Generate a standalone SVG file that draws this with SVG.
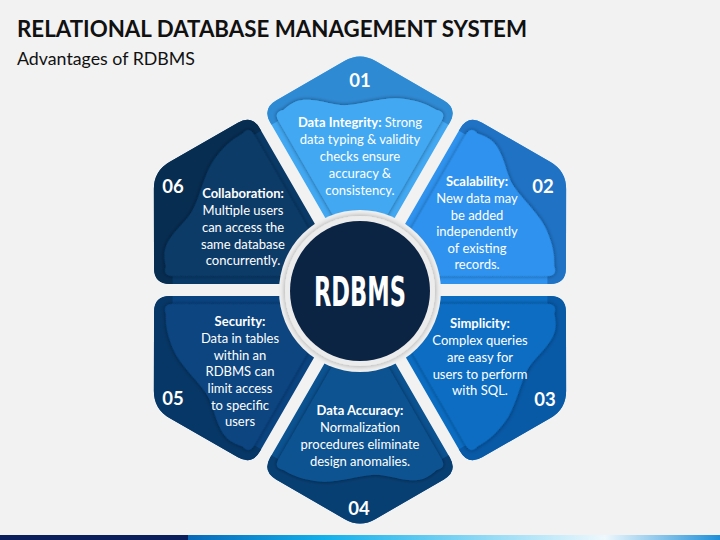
<svg xmlns="http://www.w3.org/2000/svg" xmlns:xlink="http://www.w3.org/1999/xlink" width="720" height="540" viewBox="0 0 720 540">
<style>
.title{font-family:Lato,"Liberation Sans",sans-serif;font-weight:bold;font-size:22.5px;fill:#111;}
.sub{font-family:Lato,"Liberation Sans",sans-serif;font-size:17px;fill:#111;}
.body{font-family:Lato,"Liberation Sans",sans-serif;font-size:13px;fill:#fff;text-anchor:middle;}
.b{font-weight:bold;}
.num{font-family:Lato,"Liberation Sans",sans-serif;font-weight:bold;font-size:18.5px;fill:#fff;text-anchor:middle;}
.core{font-family:"DejaVu Sans Condensed","Liberation Sans",sans-serif;font-weight:bold;font-size:41px;fill:#fff;text-anchor:middle;}
</style>
<defs>
<path id="kite" d="M -15.6,-229 Q 0,-238 15.6,-229 L 83.9,-189.4 Q 97.8,-181.4 89.8,-167.5 L 0,-12 L -89.8,-167.5 Q -97.8,-181.4 -83.9,-189.4 Z"/>
<path id="cap" d="M -150,-260 L 150,-260 L 150,-130 L 81.6,-169.3 Q 86.6,-178 76.6,-180 C 70,-184 60,-189 45,-191 C 25,-194 5,-186 -12,-185 C -25,-184 -35,-189 -48,-190 C -58,-191 -66,-190 -76.6,-180 Q -86.6,-178 -81.6,-169.3 L -150,-130 Z"/>
<path id="panel" d="M -76.6,-180 C -66,-190 -58,-191 -48,-190 C -35,-189 -25,-184 -12,-185 C 5,-186 25,-194 45,-191 C 60,-189 70,-184 76.6,-180 Q 86.6,-178 81.6,-169.3 L 0,-28 L -81.6,-169.3 Q -86.6,-178 -76.6,-180 Z"/>
<clipPath id="kclip"><use xlink:href="#kite"/></clipPath>
<filter id="sh" x="-20%" y="-20%" width="140%" height="140%">
<feGaussianBlur in="SourceAlpha" stdDeviation="2"/>
<feComponentTransfer><feFuncA type="linear" slope="0.5"/></feComponentTransfer>
<feMerge><feMergeNode/><feMergeNode in="SourceGraphic"/></feMerge>
</filter>
<filter id="csh" x="-20%" y="-20%" width="140%" height="140%">
<feGaussianBlur in="SourceAlpha" stdDeviation="3"/>
<feComponentTransfer><feFuncA type="linear" slope="0.35"/></feComponentTransfer>
<feMerge><feMergeNode/><feMergeNode in="SourceGraphic"/></feMerge>
</filter>
<linearGradient id="bar" x1="0" y1="0" x2="720" y2="0" gradientUnits="userSpaceOnUse">
<stop offset="0.26" stop-color="#0868b8"/>
<stop offset="0.45" stop-color="#12b0ea"/>
<stop offset="0.84" stop-color="#eef8fd"/>
<stop offset="1" stop-color="#1d8fd8"/>
</linearGradient>
</defs>
<rect x="0" y="0" width="720" height="540" fill="#f2f2f2"/>
<text class="title" x="17" y="37" textLength="510" lengthAdjust="spacingAndGlyphs">RELATIONAL DATABASE MANAGEMENT SYSTEM</text>
<text class="sub" x="17" y="65" textLength="178" lengthAdjust="spacingAndGlyphs">Advantages of RDBMS</text>

<g id="connectors"/>

<g id="node-01">
<g transform="translate(360,290)">
<use xlink:href="#kite" fill="#42a8f2"/>
<use xlink:href="#cap" fill="#2f8ad4" clip-path="url(#kclip)"/>
<use xlink:href="#panel" fill="#42a8f2" filter="url(#sh)"/>
</g>
<text class="num" x="360" y="87">01</text>
<text class="body"><tspan x="360" y="127"><tspan class="b">Data Integrity:</tspan> Strong</tspan><tspan x="360" y="144">data typing &amp; validity</tspan><tspan x="360" y="161">checks ensure</tspan><tspan x="360" y="178">accuracy &amp;</tspan><tspan x="360" y="194.5">consistency.</tspan></text>
</g>

<g id="node-02">
<g transform="translate(360,290) rotate(60)">
<use xlink:href="#kite" fill="#2e92ee"/>
<use xlink:href="#cap" fill="#1f72c4" clip-path="url(#kclip)"/>
<use xlink:href="#panel" fill="#2e92ee" filter="url(#sh)"/>
</g>
<text class="num" x="543" y="193">02</text>
<text class="body"><tspan class="b" x="477" y="185.5">Scalability:</tspan><tspan x="477" y="202.5">New data may</tspan><tspan x="477" y="219.5">be added</tspan><tspan x="477" y="236">independently</tspan><tspan x="477" y="252.5">of existing</tspan><tspan x="477" y="269">records.</tspan></text>
</g>

<g id="node-03">
<g transform="translate(360,290) rotate(120)">
<use xlink:href="#kite" fill="#0b6dc2"/>
<use xlink:href="#cap" fill="#0859a6" clip-path="url(#kclip)"/>
<use xlink:href="#panel" fill="#0b6dc2" filter="url(#sh)"/>
</g>
<text class="num" x="545" y="406">03</text>
<text class="body"><tspan class="b" x="480" y="328">Simplicity:</tspan><tspan x="480" y="345">Complex queries</tspan><tspan x="480" y="362">are easy for</tspan><tspan x="480" y="379">users to perform</tspan><tspan x="480" y="395">with SQL.</tspan></text>
</g>

<g id="node-04">
<g transform="translate(360,290) rotate(180)">
<use xlink:href="#kite" fill="#0b5291"/>
<use xlink:href="#cap" fill="#083f73" clip-path="url(#kclip)"/>
<use xlink:href="#panel" fill="#0b5291" filter="url(#sh)"/>
</g>
<text class="num" x="359" y="515">04</text>
<text class="body"><tspan class="b" x="360" y="415">Data Accuracy:</tspan><tspan x="360" y="432">Normalization</tspan><tspan x="360" y="449">procedures eliminate</tspan><tspan x="360" y="466">design anomalies.</tspan></text>
</g>

<g id="node-05">
<g transform="translate(360,290) rotate(240)">
<use xlink:href="#kite" fill="#0a4480"/>
<use xlink:href="#cap" fill="#073766" clip-path="url(#kclip)"/>
<use xlink:href="#panel" fill="#0a4480" filter="url(#sh)"/>
</g>
<text class="num" x="173" y="405">05</text>
<text class="body"><tspan class="b" x="240" y="326">Security:</tspan><tspan x="240" y="343">Data in tables</tspan><tspan x="240" y="359.5">within an</tspan><tspan x="240" y="376">RDBMS can</tspan><tspan x="240" y="393">limit access</tspan><tspan x="240" y="409.5">to specific</tspan><tspan x="240" y="426">users</tspan></text>
</g>

<g id="node-06">
<g transform="translate(360,290) rotate(300)">
<use xlink:href="#kite" fill="#093a67"/>
<use xlink:href="#cap" fill="#072d51" clip-path="url(#kclip)"/>
<use xlink:href="#panel" fill="#093a67" filter="url(#sh)"/>
</g>
<text class="num" x="173" y="193">06</text>
<text class="body"><tspan class="b" x="243" y="198">Collaboration:</tspan><tspan x="243" y="215">Multiple users</tspan><tspan x="243" y="232">can access the</tspan><tspan x="243" y="248.5">same database</tspan><tspan x="243" y="265">concurrently.</tspan></text>
</g>

<g id="node-center">
<circle cx="360" cy="291" r="81" fill="#f2f2f2"/>
<circle cx="360" cy="291" r="75" fill="#ececec" filter="url(#csh)"/>
<circle cx="360" cy="291" r="70" fill="#0b2444"/>
<text class="core" x="360" y="306" textLength="92" lengthAdjust="spacingAndGlyphs">RDBMS</text>
</g>

<rect x="0" y="535" width="720" height="5" fill="url(#bar)"/>
<rect x="0" y="535" width="188" height="5" fill="#0a1f5c"/>
</svg>
